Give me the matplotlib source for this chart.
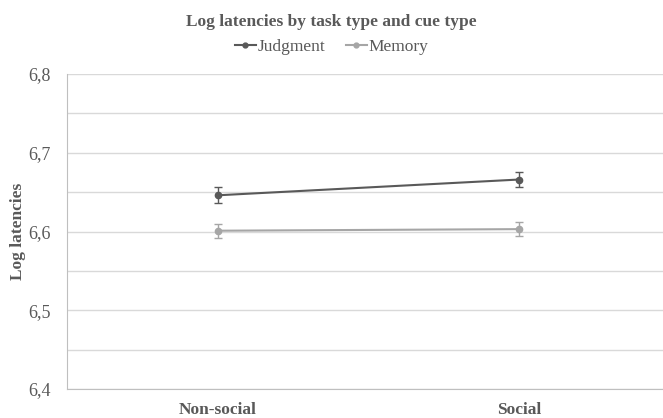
import matplotlib
matplotlib.use("Agg")
import matplotlib.pyplot as plt
from matplotlib.lines import Line2D
import numpy as np

categories = ["Non-social", "Social"]
judgment = [6.646, 6.666]
judgment_err = [0.010, 0.010]
memory = [6.601, 6.603]
memory_err = [0.009, 0.009]
yticks = [6.4, 6.5, 6.6, 6.7, 6.8]
ytick_labels = ["6,4", "6,5", "6,6", "6,7", "6,8"]

plt.rcParams['font.family'] = ['Liberation Serif', 'DejaVu Serif']
txt = "#595959"
c_j = "#595959"
c_m = "#a6a6a6"

fig = plt.figure(figsize=(6.63, 4.18), dpi=100)
ax = fig.add_axes([67/663, 1-389/418, (663-67)/663, (389-74)/418])

x = np.arange(len(categories))
ax.errorbar(x, judgment, yerr=judgment_err, color=c_j, marker="o", markersize=4.5,
            linewidth=1.5, capsize=3, elinewidth=1, capthick=1, zorder=3)
ax.errorbar(x, memory, yerr=memory_err, color=c_m, marker="o", markersize=4.5,
            linewidth=1.5, capsize=3, elinewidth=1, capthick=1, zorder=3)

ax.set_xlim(-0.502, 1.478)
ax.set_ylim(6.4, 6.8)
ax.set_yticks(yticks)
ax.set_yticklabels(ytick_labels, fontsize=13, color=txt)
ax.set_yticks(np.arange(6.45, 6.8, 0.1), minor=True)
ax.grid(axis="y", which="both", color="#d9d9d9", linewidth=1)
ax.set_axisbelow(True)
ax.set_xticks(x)
ax.set_xticklabels(categories, fontsize=12.5, fontweight="bold", color=txt)
ax.tick_params(axis="both", which="both", length=0)
ax.tick_params(axis="y", pad=12)
ax.tick_params(axis="x", pad=9)
for s in ["top", "right"]:
    ax.spines[s].set_visible(False)
ax.spines["left"].set_color("#bfbfbf")
ax.spines["bottom"].set_color("#bfbfbf")
ax.set_ylabel("Log latencies", fontsize=12.5, fontweight="bold", color=txt)
ax.yaxis.set_label_coords((18 - 67) / 596, 0.5)
ax.yaxis.label.set_va("center")

fig.text(0.5, 1-22/418, "Log latencies by task type and cue type", ha="center", va="center",
         fontsize=12.5, fontweight="bold", color=txt)
handles = [Line2D([], [], color=c_j, marker="o", markersize=3.5, linewidth=1.5),
           Line2D([], [], color=c_m, marker="o", markersize=3.5, linewidth=1.5)]
fig.legend(handles, ["Judgment", "Memory"], loc="center", bbox_to_anchor=(0.5, 1-47/418),
           ncol=2, frameon=False, fontsize=12.5, handlelength=1.2, handletextpad=0.1,
           columnspacing=1.2, labelcolor=txt)
fig.savefig("out.png", dpi=100)
